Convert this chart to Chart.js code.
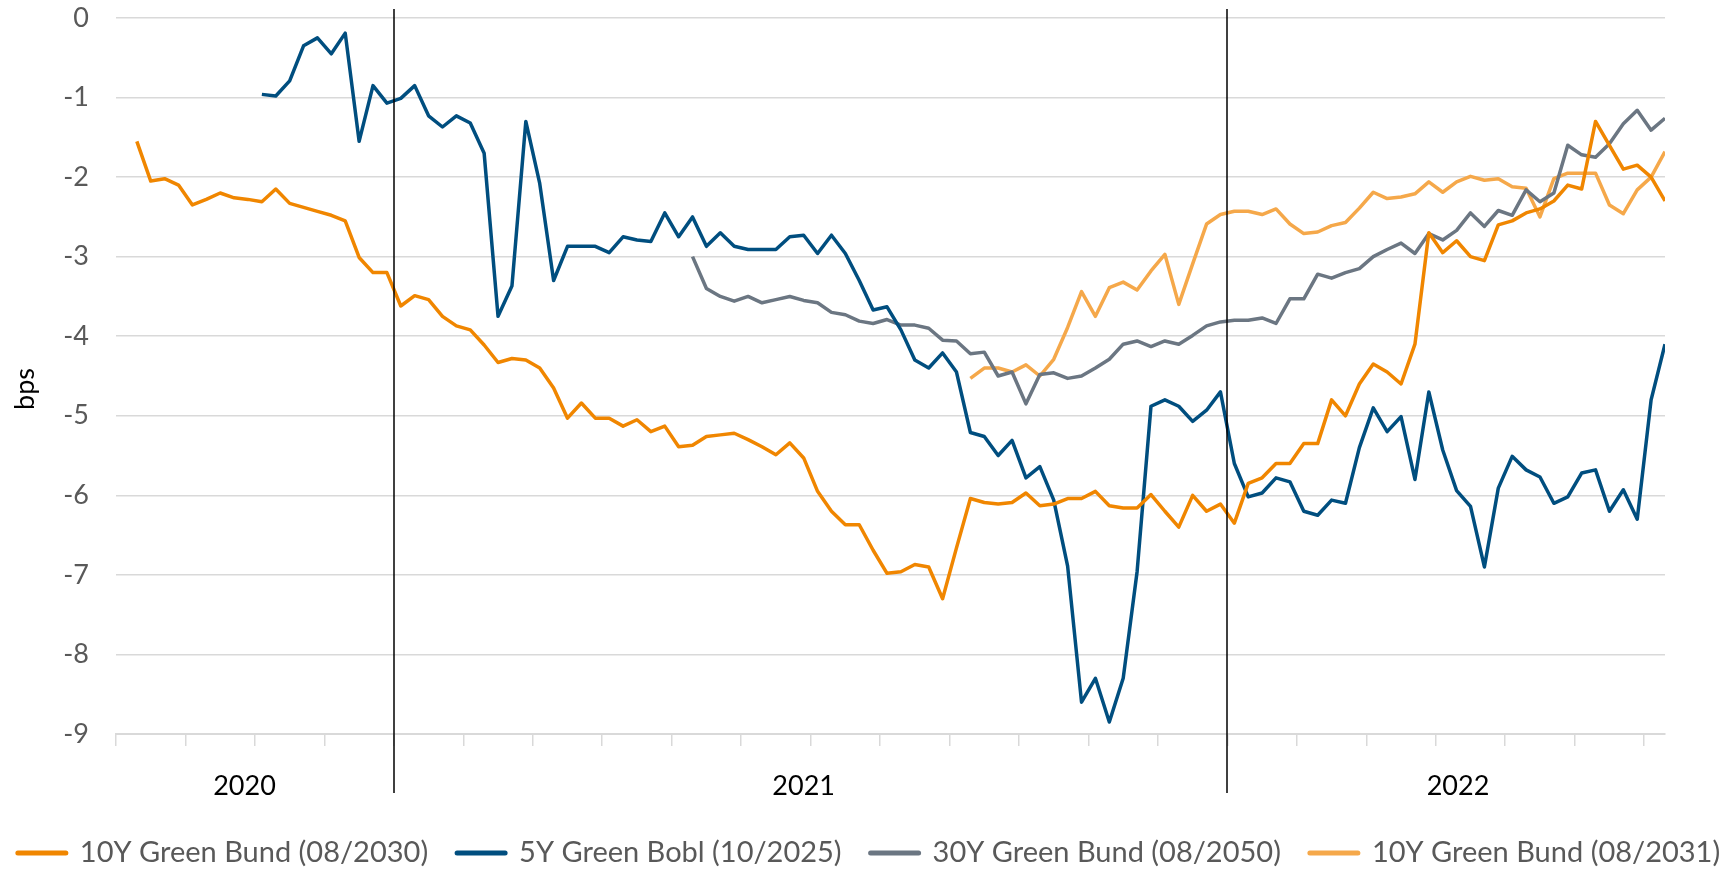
<!DOCTYPE html>
<html>
<head>
<meta charset="utf-8">
<title>Green Bund spreads</title>
<script src="https://cdn.jsdelivr.net/npm/chart.js@4.4.1/dist/chart.umd.min.js"></script>
<style>
  html, body { margin: 0; padding: 0; background: #fff; }
  #wrap { width: 1735px; height: 869px; }
</style>
</head>
<body>
<div id="wrap"><canvas id="chart" width="1735" height="869"></canvas></div>
<script>
// x values are months since 1 Sep 2020, one reading every 0.2 month
const step = 0.2;
const xMax = 22.3;

const seriesNames = [
  '10Y Green Bund (08/2030)',
  '5Y Green Bobl (10/2025)',
  '30Y Green Bund (08/2050)',
  '10Y Green Bund (08/2031)'
];

const bund2030Start = 0.3;
const bund2030 = [
  -1.55, -2.05, -2.02, -2.1, -2.35, -2.28, -2.2, -2.26, -2.28,
  -2.31, -2.15, -2.33, -2.38, -2.43, -2.48, -2.55, -3.01, -3.2, -3.2,
  -3.62, -3.49, -3.54, -3.75, -3.87, -3.92, -4.11, -4.33, -4.28, -4.3,
  -4.4, -4.65, -5.03, -4.84, -5.03, -5.03, -5.13, -5.05, -5.2, -5.13,
  -5.39, -5.37, -5.26, -5.24, -5.22, -5.3, -5.39, -5.49, -5.34, -5.53,
  -5.95, -6.2, -6.37, -6.37, -6.69, -6.98, -6.96, -6.87, -6.9, -7.3,
  -6.66, -6.04, -6.09, -6.11, -6.09, -5.97, -6.13, -6.11, -6.04, -6.04,
  -5.95, -6.13, -6.16, -6.16, -5.99, -6.2, -6.4, -6.0, -6.2, -6.11,
  -6.35, -5.85, -5.78, -5.6, -5.6, -5.35, -5.35, -4.8, -5.0, -4.6,
  -4.35, -4.45, -4.6, -4.1, -2.7, -2.95, -2.8, -3.0, -3.05, -2.6,
  -2.55, -2.45, -2.4, -2.3, -2.1, -2.15, -1.3, -1.6, -1.9, -1.85,
  -2.0, -2.3
];

const bobl2025Start = 2.1;
const bobl2025 = [
  -0.96, -0.98, -0.79, -0.35, -0.25, -0.45, -0.19, -1.55, -0.85, -1.07,
  -1.01, -0.85, -1.23, -1.37, -1.23, -1.32, -1.7, -3.75, -3.37, -1.3,
  -2.08, -3.3, -2.87, -2.87, -2.87, -2.95, -2.75, -2.79, -2.81, -2.45,
  -2.75, -2.5, -2.87, -2.7, -2.87, -2.91, -2.91, -2.91, -2.75, -2.73,
  -2.96, -2.73, -2.96, -3.3, -3.67, -3.63, -3.92, -4.3, -4.4, -4.21,
  -4.45, -5.21, -5.26, -5.5, -5.31, -5.78, -5.64, -6.06, -6.89, -8.6,
  -8.3, -8.85, -8.3, -6.96, -4.88, -4.8, -4.88, -5.07, -4.93, -4.7,
  -5.6, -6.02, -5.97, -5.78, -5.83, -6.2, -6.25, -6.06, -6.1, -5.4,
  -4.9, -5.2, -5.01, -5.8, -4.7, -5.43, -5.94, -6.14, -6.9, -5.91,
  -5.51, -5.68, -5.77, -6.1, -6.02, -5.72, -5.68, -6.2, -5.93, -6.3,
  -4.8, -4.1
];

const bund2050Start = 8.3;
const bund2050 = [
  -3.0, -3.4, -3.5, -3.56, -3.5, -3.58, -3.54, -3.5, -3.55,
  -3.58, -3.7, -3.73, -3.81, -3.84, -3.79, -3.86, -3.86, -3.9, -4.05,
  -4.06, -4.22, -4.2, -4.5, -4.45, -4.85, -4.48, -4.46, -4.53, -4.5,
  -4.4, -4.29, -4.1, -4.06, -4.13, -4.06, -4.1, -3.99, -3.87, -3.82,
  -3.8, -3.8, -3.77, -3.84, -3.53, -3.53, -3.22, -3.27, -3.2, -3.15,
  -3.0, -2.91, -2.83, -2.96, -2.71, -2.79, -2.67, -2.45, -2.62, -2.42,
  -2.48, -2.16, -2.31, -2.2, -1.6, -1.72, -1.75, -1.58, -1.33, -1.16,
  -1.41, -1.26
];

const bund2031Start = 12.3;
const bund2031 = [
  -4.53, -4.4, -4.4, -4.45, -4.36, -4.5, -4.29, -3.89, -3.44,
  -3.75, -3.39, -3.32, -3.42, -3.18, -2.97, -3.6, -3.09, -2.59, -2.47,
  -2.43, -2.43, -2.47, -2.4, -2.59, -2.71, -2.69, -2.61, -2.57, -2.39,
  -2.19, -2.27, -2.25, -2.21, -2.06, -2.19, -2.06, -1.99, -2.04, -2.02,
  -2.12, -2.14, -2.5, -2.02, -1.95, -1.95, -1.95, -2.35, -2.46, -2.16,
  -2.0, -1.68
];

const monthTicks = [0, 1, 2, 3, 4, 5, 6, 7, 8, 9, 10, 11, 12, 13, 14, 15, 16, 17, 18, 19, 20, 21, 22];
const yearLabels = ['2020', '2021', '2022'];
const yearLabelAt = [1.85, 9.9, 19.32];
const yearBreaks = [4, 16];

const colors = ['#F08600', '#004E7F', '#6B7682', '#F5A84A'];
const FONT = 'Lato, "Open Sans", sans-serif';

function toPoints(start, values) {
  return values.map((v, i) => ({ x: +(start + i * step).toFixed(2), y: v }));
}

const seriesData = [
  toPoints(bund2030Start, bund2030),
  toPoints(bobl2025Start, bobl2025),
  toPoints(bund2050Start, bund2050),
  toPoints(bund2031Start, bund2031)
];

// year separators, year labels, axis title and legend
const decorations = {
  id: 'decorations',
  afterDatasetsDraw(chart) {
    const { ctx, scales: { x } } = chart;
    ctx.save();

    ctx.strokeStyle = '#000';
    ctx.lineWidth = 1.5;
    yearBreaks.forEach(m => {
      const px = Math.round(x.getPixelForValue(m));
      ctx.beginPath();
      ctx.moveTo(px, 9);
      ctx.lineTo(px, 793);
      ctx.stroke();
    });

    ctx.fillStyle = '#000';
    ctx.font = '27px ' + FONT;
    ctx.textAlign = 'center';
    ctx.textBaseline = 'middle';
    yearLabels.forEach((t, i) => ctx.fillText(t, x.getPixelForValue(yearLabelAt[i]), 786));

    ctx.save();
    ctx.translate(25, 389);
    ctx.rotate(-Math.PI / 2);
    ctx.fillText('bps', 0, 0);
    ctx.restore();

    // legend
    ctx.font = '29px ' + FONT;
    const swatch = 54, gap = 11, itemGap = 26;
    const widths = seriesNames.map(n => ctx.measureText(n).width);
    const total = widths.reduce((a, w) => a + swatch + gap + w, 0) + itemGap * (seriesNames.length - 1);
    let lx = (chart.width - total) / 2;
    const ly = 853;
    ctx.textAlign = 'left';
    ctx.lineCap = 'round';
    ctx.lineWidth = 5;
    seriesNames.forEach((n, i) => {
      ctx.strokeStyle = colors[i];
      ctx.beginPath();
      ctx.moveTo(lx + 3, ly);
      ctx.lineTo(lx + swatch - 3, ly);
      ctx.stroke();
      ctx.fillStyle = '#595959';
      ctx.fillText(n, lx + swatch + gap, ly);
      lx += swatch + gap + widths[i] + itemGap;
    });

    ctx.restore();
  }
};

new Chart(document.getElementById('chart'), {
  type: 'line',
  data: {
    datasets: seriesNames.map((name, i) => ({
      label: name,
      data: seriesData[i],
      borderColor: colors[i],
      backgroundColor: colors[i],
      borderWidth: 3.5,
      borderJoinStyle: 'round',
      pointRadius: 0,
      tension: 0,
      fill: false
    }))
  },
  options: {
    responsive: false,
    animation: false,
    devicePixelRatio: 1,
    layout: { padding: { top: 18, right: 70, bottom: 0, left: 0 } },
    plugins: {
      legend: { display: false },
      tooltip: { enabled: false }
    },
    scales: {
      x: {
        type: 'linear',
        min: 0,
        max: xMax,
        afterBuildTicks: (scale) => { scale.ticks = monthTicks.map(v => ({ value: v })); },
        afterFit: (scale) => {
          scale.height = 135;
          scale.paddingLeft = 0;
          scale.paddingRight = 0;
        },
        ticks: { display: false },
        grid: {
          drawOnChartArea: false,
          drawTicks: true,
          tickLength: 12,
          color: '#d9d9d9',
          lineWidth: 1.5
        },
        border: { display: true, color: '#d9d9d9', width: 2 }
      },
      y: {
        min: -9,
        max: 0,
        afterFit: (scale) => {
          scale.width = 116;
          scale.paddingTop = 0;
          scale.paddingBottom = 0;
        },
        ticks: {
          stepSize: 1,
          color: '#595959',
          padding: 27,
          font: { family: FONT, size: 27 }
        },
        grid: { color: '#d9d9d9', lineWidth: 1.5, drawTicks: false },
        border: { display: false }
      }
    }
  },
  plugins: [decorations]
});
</script>
</body>
</html>
